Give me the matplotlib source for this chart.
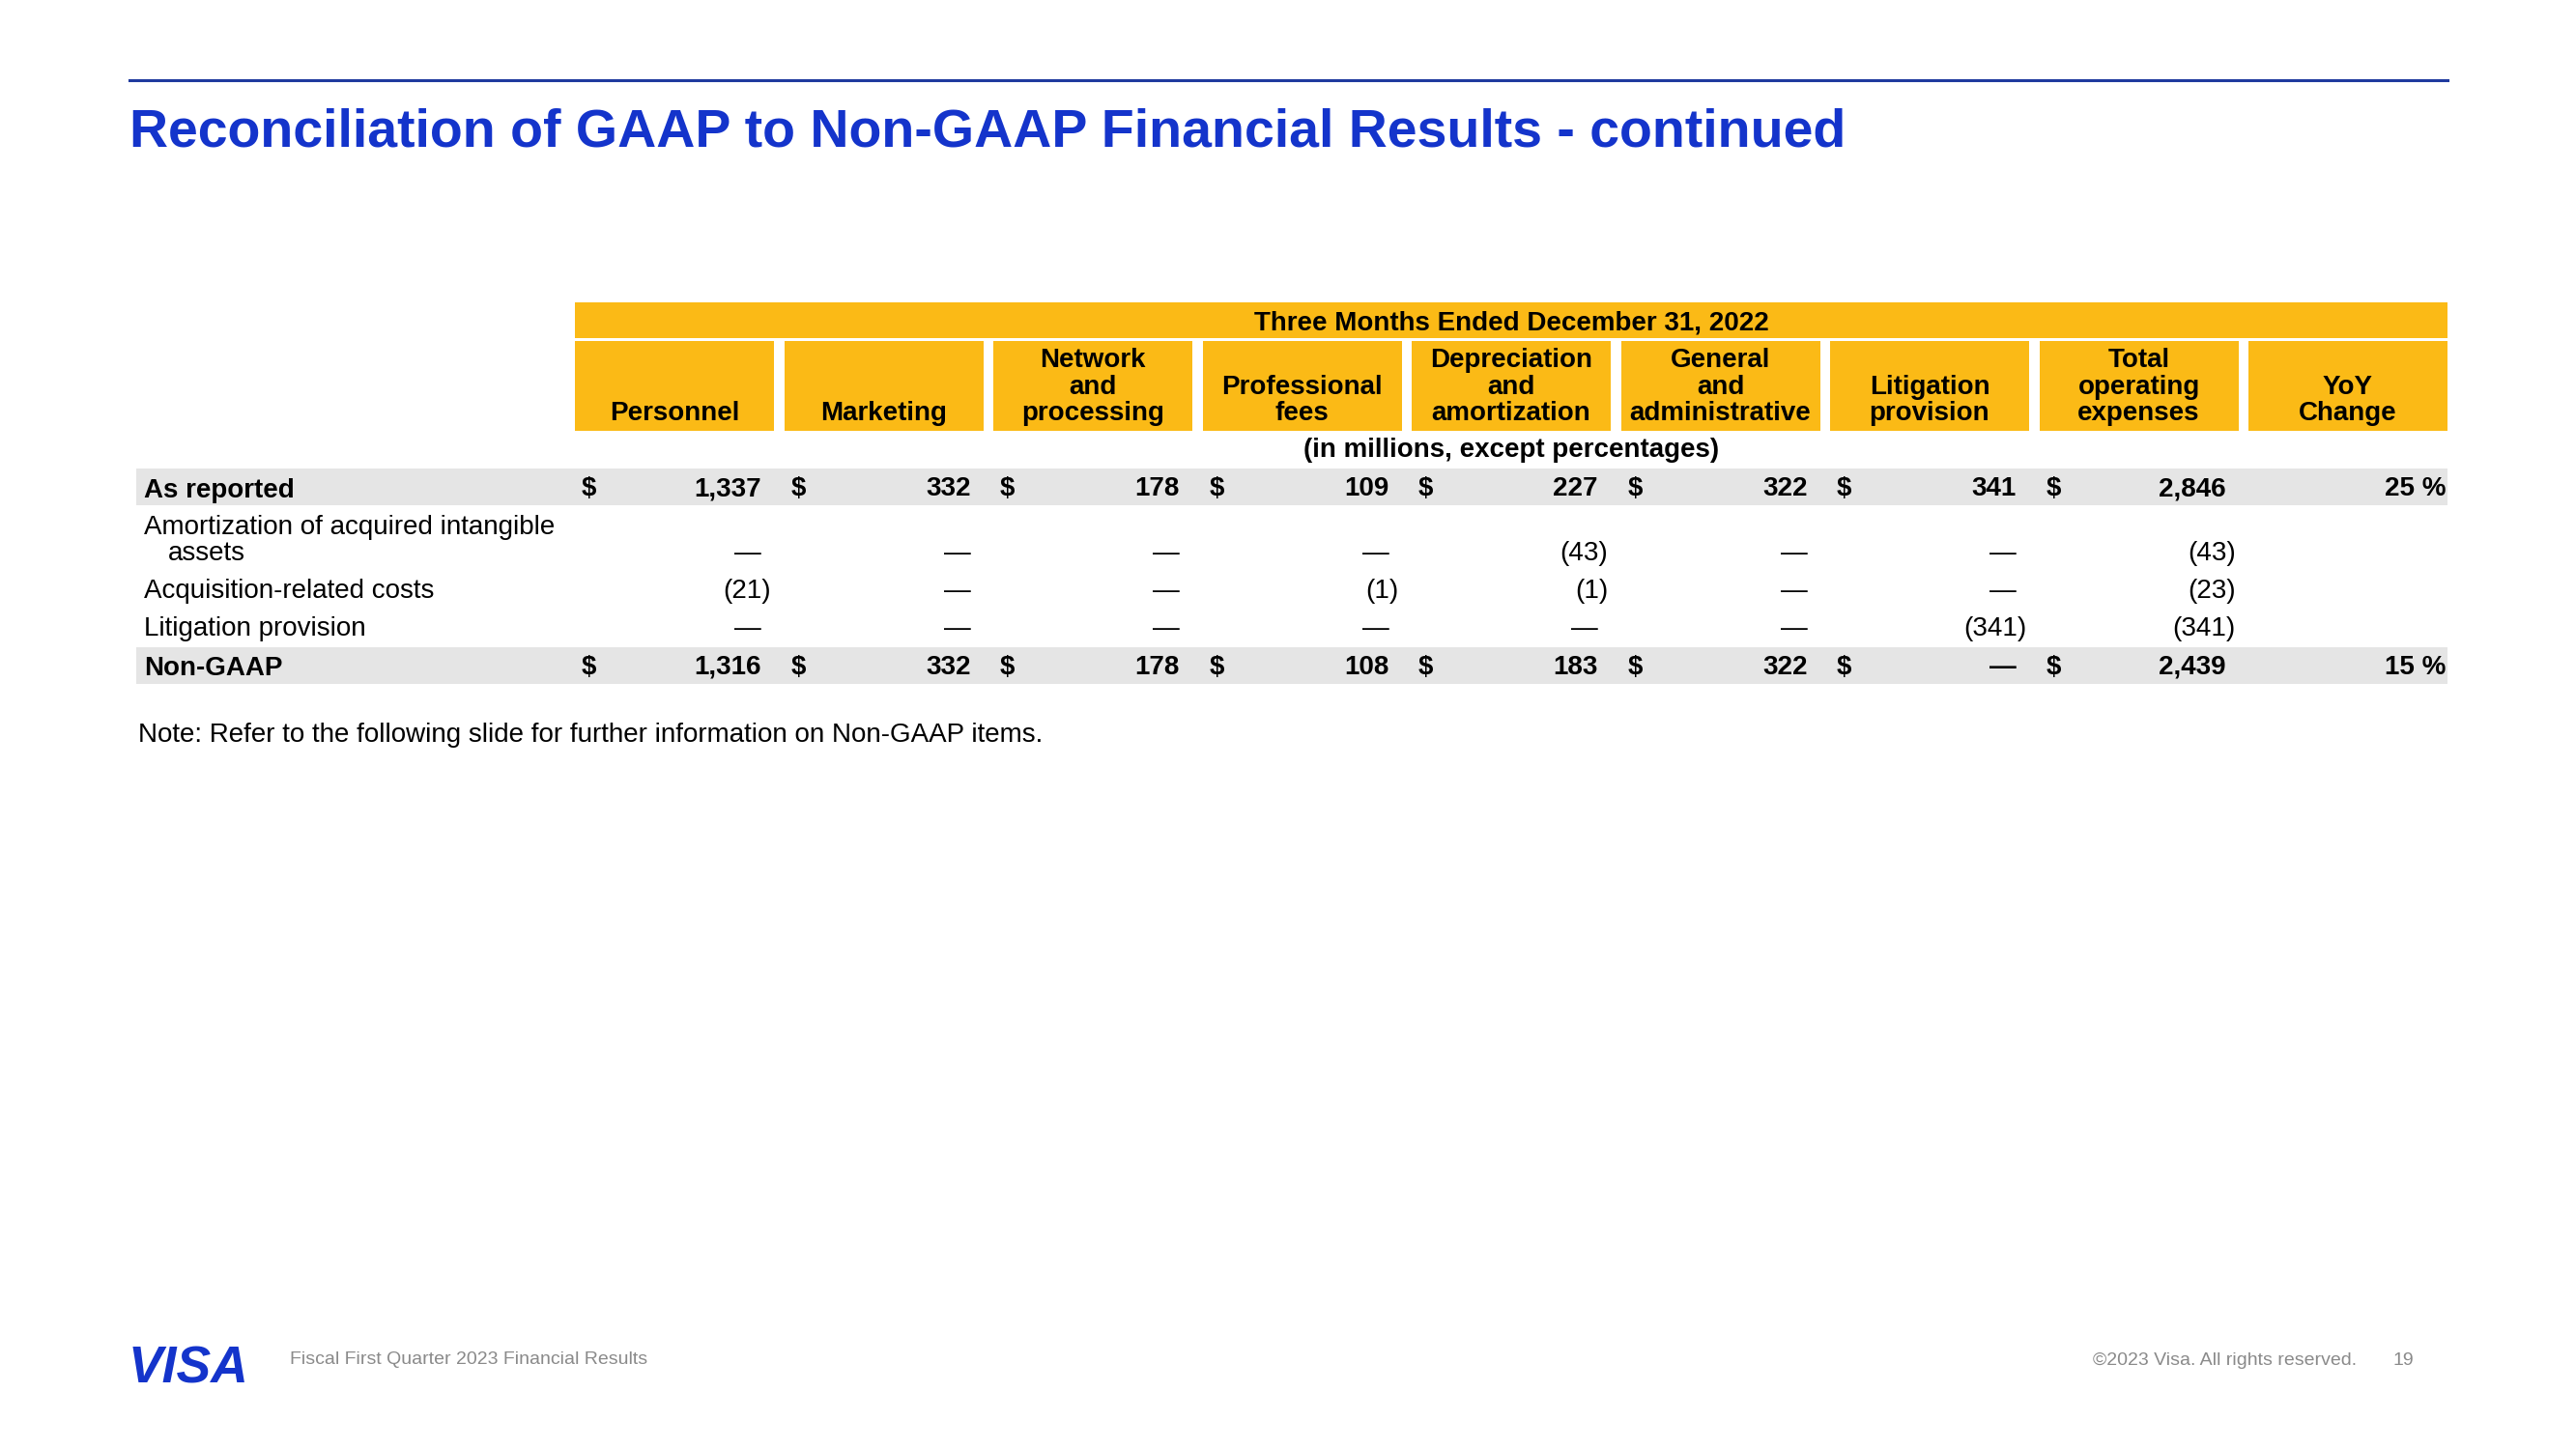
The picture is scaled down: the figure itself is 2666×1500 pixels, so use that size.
import matplotlib.pyplot as plt
from matplotlib.patches import Rectangle

plt.rcParams['font.family'] = ['Liberation Sans', 'DejaVu Sans']

# table data (in millions)
columns = [['Personnel'], ['Marketing'], ['Network', 'and', 'processing'],
           ['Professional', 'fees'], ['Depreciation', 'and', 'amortization'],
           ['General', 'and', 'administrative'], ['Litigation', 'provision'],
           ['Total', 'operating', 'expenses'], ['YoY', 'Change']]
row_labels = [['As reported'], ['Amortization of acquired intangible', 'assets'],
              ['Acquisition-related costs'], ['Litigation provision'], ['Non-GAAP']]
as_reported = [1337, 332, 178, 109, 227, 322, 341, 2846]
amortization = [0, 0, 0, 0, -43, 0, 0, -43]
acquisition = [-21, 0, 0, -1, -1, 0, 0, -23]
litigation = [0, 0, 0, 0, 0, 0, -341, -341]
non_gaap = [1316, 332, 178, 108, 183, 322, 0, 2439]
yoy_change = [25, None, None, None, 15]

BLUE = '#1434CB'
GOLD = '#FBBA16'
GRAY = '#E5E5E5'
FS = 20

fig = plt.figure(figsize=(26.66, 15), dpi=100)
ax = fig.add_axes([0, 0, 1, 1])
ax.set_xlim(0, 2666)
ax.set_ylim(1500, 0)
ax.axis('off')

# header rule + title
ax.plot([134, 2533], [83, 83], color='#1F3A9E', lw=2.2)
ax.text(134, 152, 'Reconciliation of GAAP to Non-GAAP Financial Results - continued',
        fontsize=40, fontweight='bold', color=BLUE, va='baseline')

# table header
x_first, pitch, col_w = 595, 216.5, 206
ax.add_patch(Rectangle((x_first, 313), 2533 - x_first, 37, color=GOLD, lw=0))
mid = (x_first + 2533) / 2
ax.text(mid, 341, 'Three Months Ended December 31, 2022', fontsize=FS,
        fontweight='bold', ha='center', va='baseline')
for i, lines in enumerate(columns):
    x0 = x_first + i * pitch
    ax.add_patch(Rectangle((x0, 353), col_w, 93, color=GOLD, lw=0))
    for k, line in enumerate(lines):
        yb = 435 - (len(lines) - 1 - k) * 27.5
        ax.text(x0 + col_w / 2, yb, line, fontsize=FS, fontweight='bold',
                ha='center', va='baseline')
ax.text(mid, 473, '(in millions, except percentages)', fontsize=FS,
        fontweight='bold', ha='center', va='baseline')


def fmt(v):
    if v == 0:
        return '\u2014'
    if v < 0:
        return '({:,})'.format(-v)
    return '{:,}'.format(v)


rows = [as_reported, amortization, acquisition, litigation, non_gaap]
baselines = [513, 580, 619, 658, 698]
label_base = [[515], [553, 580], [619], [658], [699]]
for r, (vals, yb) in enumerate(zip(rows, baselines)):
    total_row = r in (0, 4)
    weight = 'bold' if total_row else 'normal'
    if total_row:
        ax.add_patch(Rectangle((141, yb - 28), 2533 - 141, 38, color=GRAY, lw=0))
    for k, (line, lb) in enumerate(zip(row_labels[r], label_base[r])):
        ax.text(149 + 25 * k, lb, line, fontsize=FS, fontweight=weight, va='baseline')
    for i, v in enumerate(vals):
        x0 = x_first + i * pitch
        if total_row:
            ax.text(x0 + 7, yb, '$', fontsize=FS, fontweight=weight, va='baseline')
        s = fmt(v)
        xr = x0 + 203 if v < 0 else x0 + 193
        ax.text(xr, yb, s, fontsize=FS, fontweight=weight, ha='right', va='baseline')
    if yoy_change[r] is not None:
        ax.text(2531, yb, '{} %'.format(yoy_change[r]), fontsize=FS,
                fontweight=weight, ha='right', va='baseline')

ax.text(143, 768, 'Note: Refer to the following slide for further information on Non-GAAP items.',
        fontsize=FS, va='baseline')

# footer
ax.text(133, 1432, 'VISA', fontsize=38.5, fontweight='bold', style='italic',
        color=BLUE, va='baseline')
ax.text(300, 1412, 'Fiscal First Quarter 2023 Financial Results', fontsize=14,
        color='#8A8A8A', va='baseline')
ax.text(2439, 1413, '\u00a92023 Visa. All rights reserved.', fontsize=14,
        color='#8A8A8A', ha='right', va='baseline')
ax.text(2477, 1413, '19', fontsize=14, color='#8A8A8A', va='baseline')

fig.savefig('out.png', dpi=100, facecolor='white')
